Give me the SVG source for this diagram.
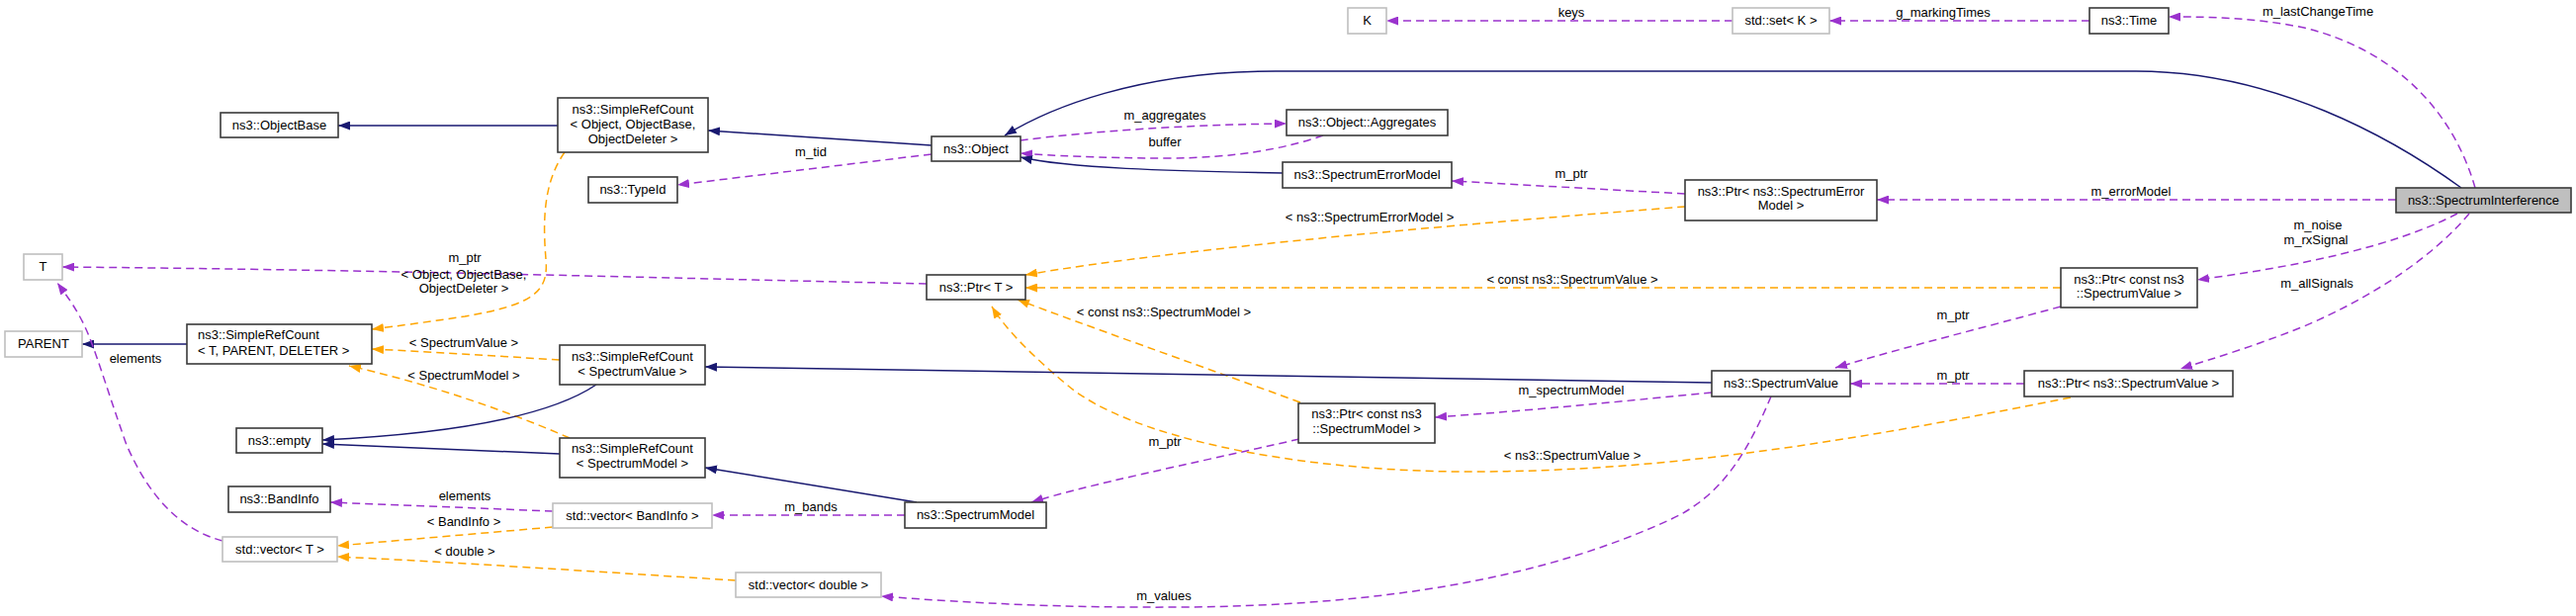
<svg xmlns="http://www.w3.org/2000/svg" width="2605" height="623" viewBox="0 0 2605 623">
<style>
.n rect{fill:#fff;stroke:#3a3a3a;stroke-width:1.6}
.g rect{fill:#fff;stroke:#bfbfbf;stroke-width:1.6}
.hl rect{fill:#bfbfbf;stroke:#3a3a3a;stroke-width:1.6}
text{font-family:"Liberation Sans",Arial,sans-serif;font-size:13px;fill:#000}
.n text,.g text,.hl text{text-anchor:middle}
.e path{fill:none;stroke-width:1.5}
.inh{stroke:#191970}
.use{stroke:#9a32cd;stroke-dasharray:8,5}
.tpl{stroke:#ffa500;stroke-dasharray:8,5}
.lbl text{text-anchor:middle}
</style>
<defs>
<marker id="aB" viewBox="0 0 12 9" refX="12" refY="4.5" markerWidth="12" markerHeight="9" markerUnits="userSpaceOnUse" orient="auto"><path d="M0,0 L12,4.5 L0,9 z" fill="#191970"/></marker>
<marker id="aP" viewBox="0 0 12 9" refX="12" refY="4.5" markerWidth="12" markerHeight="9" markerUnits="userSpaceOnUse" orient="auto"><path d="M0,0 L12,4.5 L0,9 z" fill="#9a32cd"/></marker>
<marker id="aO" viewBox="0 0 12 9" refX="12" refY="4.5" markerWidth="12" markerHeight="9" markerUnits="userSpaceOnUse" orient="auto"><path d="M0,0 L12,4.5 L0,9 z" fill="#ffa500"/></marker>
</defs>
<rect width="2605" height="623" fill="#fff"/>
<g id="edges" class="e">
<path class="inh" marker-end="url(#aB)" d="M564,127 L342,127"/>
<path class="inh" marker-end="url(#aB)" d="M189,348 L83,348"/>
<path class="inh" marker-end="url(#aB)" d="M942,147 L716,132"/>
<path class="use" marker-end="url(#aP)" d="M942,156 L685,187"/>
<path class="use" marker-end="url(#aP)" d="M1032,142 C1100,133 1200,126 1301,125"/>
<path class="use" marker-end="url(#aP)" d="M1338,137 C1300,150 1250,160 1180,160 C1110,160 1060,157 1032,155"/>
<path class="inh" marker-end="url(#aB)" d="M1297,175 C1180,173 1080,170 1032,159"/>
<path class="inh" marker-end="url(#aB)" d="M2489,190 C2420,140 2300,72 2160,72 L1290,72 C1150,72 1060,110 1016,137"/>
<path class="use" marker-end="url(#aP)" d="M937,287 C700,282 400,273 63,270"/>
<path class="tpl" marker-end="url(#aO)" d="M571,154 C549,185 549,225 552,262 C555,295 540,308 470,320 C430,326 400,330 376,333"/>
<path class="tpl" marker-end="url(#aO)" d="M566,364 C500,360 440,356 376,353"/>
<path class="tpl" marker-end="url(#aO)" d="M576,443 C500,410 420,385 353,370"/>
<path class="inh" marker-end="url(#aB)" d="M603,389 C560,418 470,438 326,445"/>
<path class="inh" marker-end="url(#aB)" d="M566,459 L326,449"/>
<path class="use" marker-end="url(#aP)" d="M559,517 L334,508"/>
<path class="tpl" marker-end="url(#aO)" d="M559,533 L341,552"/>
<path class="tpl" marker-end="url(#aO)" d="M744,587 C600,578 450,568 341,563"/>
<path class="use" marker-end="url(#aP)" d="M225,547 C180,535 150,500 128,450 C112,405 100,365 90,340 C80,315 68,300 58,286"/>
<path class="inh" marker-end="url(#aB)" d="M927,508 L713,473"/>
<path class="use" marker-end="url(#aP)" d="M915,521 L720,521"/>
<path class="use" marker-end="url(#aP)" d="M1314,444 C1200,470 1100,490 1043,508"/>
<path class="tpl" marker-end="url(#aO)" d="M1315,407 C1200,365 1100,330 1029,303"/>
<path class="tpl" marker-end="url(#aO)" d="M2094,402 C1900,440 1700,478 1480,477 C1300,476 1140,440 1080,390 C1040,357 1015,330 1003,310"/>
<path class="inh" marker-end="url(#aB)" d="M1731,387 L713,371"/>
<path class="use" marker-end="url(#aP)" d="M1704,196 L1468,183"/>
<path class="tpl" marker-end="url(#aO)" d="M1704,209 C1500,225 1200,250 1037,278"/>
<path class="tpl" marker-end="url(#aO)" d="M2084,291 L1037,291"/>
<path class="use" marker-end="url(#aP)" d="M2084,310 C2000,333 1930,350 1856,372"/>
<path class="use" marker-end="url(#aP)" d="M2047,388 L1871,388"/>
<path class="use" marker-end="url(#aP)" d="M1731,397 C1650,405 1550,415 1451,422"/>
<path class="use" marker-end="url(#aP)" d="M1791,401 C1770,450 1745,500 1690,525 C1560,585 1400,612 1200,614 C1080,615 980,610 891,603"/>
<path class="use" marker-end="url(#aP)" d="M1752,21 L1402,21"/>
<path class="use" marker-end="url(#aP)" d="M2113,21 L1850,21"/>
<path class="use" marker-end="url(#aP)" d="M2503,190 C2480,110 2420,50 2330,28 C2280,18 2240,17 2193,17"/>
<path class="use" marker-end="url(#aP)" d="M2423,202 L1898,202"/>
<path class="use" marker-end="url(#aP)" d="M2485,216 C2420,250 2320,270 2222,283"/>
<path class="use" marker-end="url(#aP)" d="M2497,216 C2460,260 2400,300 2330,330 C2280,350 2240,362 2205,373"/>
<g class="lbl">
<text x="820" y="158">m_tid</text>
<text x="1178" y="121">m_aggregates</text>
<text x="1178" y="148">buffer</text>
<text x="470" y="265">m_ptr</text>
<text x="469" y="282">&lt; Object, ObjectBase,</text>
<text x="469" y="296">ObjectDeleter &gt;</text>
<text x="469" y="351">&lt; SpectrumValue &gt;</text>
<text x="469" y="384">&lt; SpectrumModel &gt;</text>
<text x="137" y="367">elements</text>
<text x="470" y="506">elements</text>
<text x="469" y="532">&lt; BandInfo &gt;</text>
<text x="470" y="562">&lt; double &gt;</text>
<text x="820" y="517">m_bands</text>
<text x="1178" y="451">m_ptr</text>
<text x="1177" y="320">&lt; const ns3::SpectrumModel &gt;</text>
<text x="1590" y="465">&lt; ns3::SpectrumValue &gt;</text>
<text x="1589" y="180">m_ptr</text>
<text x="1385" y="224">&lt; ns3::SpectrumErrorModel &gt;</text>
<text x="1590" y="287">&lt; const ns3::SpectrumValue &gt;</text>
<text x="1975" y="323">m_ptr</text>
<text x="1975" y="384">m_ptr</text>
<text x="1589" y="399">m_spectrumModel</text>
<text x="1177" y="607">m_values</text>
<text x="1589" y="17">keys</text>
<text x="1965" y="17">g_markingTimes</text>
<text x="2344" y="16">m_lastChangeTime</text>
<text x="2155" y="198">m_errorModel</text>
<text x="2344" y="232">m_noise</text>
<text x="2342" y="247">m_rxSignal</text>
<text x="2343" y="291">m_allSignals</text>
</g>
</g>
<g id="n_objectbase" class="n"><rect x="223" y="114" width="119" height="25"/><text x="282.5" y="131">ns3::ObjectBase</text></g>
<g id="n_srcobj" class="n"><rect x="564" y="99" width="152" height="55"/><text x="640" y="115">ns3::SimpleRefCount</text><text x="640" y="130">&lt; Object, ObjectBase,</text><text x="640" y="145">ObjectDeleter &gt;</text></g>
<g id="n_typeid" class="n"><rect x="595" y="179" width="90" height="26"/><text x="640" y="196">ns3::TypeId</text></g>
<g id="n_T" class="g"><rect x="24" y="257" width="39" height="26"/><text x="43.5" y="274">T</text></g>
<g id="n_parent" class="g"><rect x="5" y="335" width="78" height="26"/><text x="44" y="352">PARENT</text></g>
<g id="n_srcT" class="n"><rect x="189" y="328" width="187" height="40"/><text x="200" y="343" style="text-anchor:start">ns3::SimpleRefCount</text><text x="200" y="359" style="text-anchor:start">&lt; T, PARENT, DELETER &gt;</text></g>
<g id="n_empty" class="n"><rect x="239" y="433" width="87" height="25"/><text x="282.5" y="450">ns3::empty</text></g>
<g id="n_bandinfo" class="n"><rect x="231" y="492" width="103" height="26"/><text x="282.5" y="509">ns3::BandInfo</text></g>
<g id="n_vecT" class="g"><rect x="225" y="543" width="116" height="25"/><text x="283" y="560">std::vector&lt; T &gt;</text></g>
<g id="n_srcSV" class="n"><rect x="566" y="349" width="147" height="40"/><text x="639.5" y="365">ns3::SimpleRefCount</text><text x="639.5" y="380">&lt; SpectrumValue &gt;</text></g>
<g id="n_srcSM" class="n"><rect x="566" y="443" width="147" height="40"/><text x="639.5" y="458">ns3::SimpleRefCount</text><text x="639.5" y="473">&lt; SpectrumModel &gt;</text></g>
<g id="n_object" class="n"><rect x="942" y="138" width="90" height="25"/><text x="987" y="155">ns3::Object</text></g>
<g id="n_ptrT" class="n"><rect x="937" y="278" width="100" height="25"/><text x="987" y="295">ns3::Ptr&lt; T &gt;</text></g>
<g id="n_vecBI" class="g"><rect x="559" y="509" width="161" height="25"/><text x="639.5" y="526">std::vector&lt; BandInfo &gt;</text></g>
<g id="n_vecD" class="g"><rect x="744" y="579" width="147" height="25"/><text x="817.5" y="596">std::vector&lt; double &gt;</text></g>
<g id="n_specModel" class="n"><rect x="915" y="508" width="143" height="26"/><text x="986.5" y="525">ns3::SpectrumModel</text></g>
<g id="n_aggregates" class="n"><rect x="1301" y="111" width="163" height="26"/><text x="1382.5" y="128">ns3::Object::Aggregates</text></g>
<g id="n_sem" class="n"><rect x="1297" y="164" width="171" height="26"/><text x="1382.5" y="181">ns3::SpectrumErrorModel</text></g>
<g id="n_ptrCSM" class="n"><rect x="1313" y="408" width="138" height="40"/><text x="1382" y="423">ns3::Ptr&lt; const ns3</text><text x="1382" y="438">::SpectrumModel &gt;</text></g>
<g id="n_K" class="g"><rect x="1363" y="8" width="39" height="26"/><text x="1382.5" y="25">K</text></g>
<g id="n_setK" class="g"><rect x="1752" y="8" width="98" height="26"/><text x="1801" y="25">std::set&lt; K &gt;</text></g>
<g id="n_ptrSEM" class="n"><rect x="1704" y="182" width="194" height="41"/><text x="1801" y="198">ns3::Ptr&lt; ns3::SpectrumError</text><text x="1801" y="212">Model &gt;</text></g>
<g id="n_specValue" class="n"><rect x="1731" y="375" width="140" height="26"/><text x="1801" y="392">ns3::SpectrumValue</text></g>
<g id="n_time" class="n"><rect x="2113" y="8" width="80" height="26"/><text x="2153" y="25">ns3::Time</text></g>
<g id="n_SI" class="hl"><rect x="2423" y="190" width="177" height="25"/><text x="2511.5" y="207">ns3::SpectrumInterference</text></g>
<g id="n_ptrCSV" class="n"><rect x="2084" y="271" width="138" height="40"/><text x="2153" y="287">ns3::Ptr&lt; const ns3</text><text x="2153" y="301">::SpectrumValue &gt;</text></g>
<g id="n_ptrSV" class="n"><rect x="2047" y="375" width="211" height="26"/><text x="2152.5" y="392">ns3::Ptr&lt; ns3::SpectrumValue &gt;</text></g>
</svg>
